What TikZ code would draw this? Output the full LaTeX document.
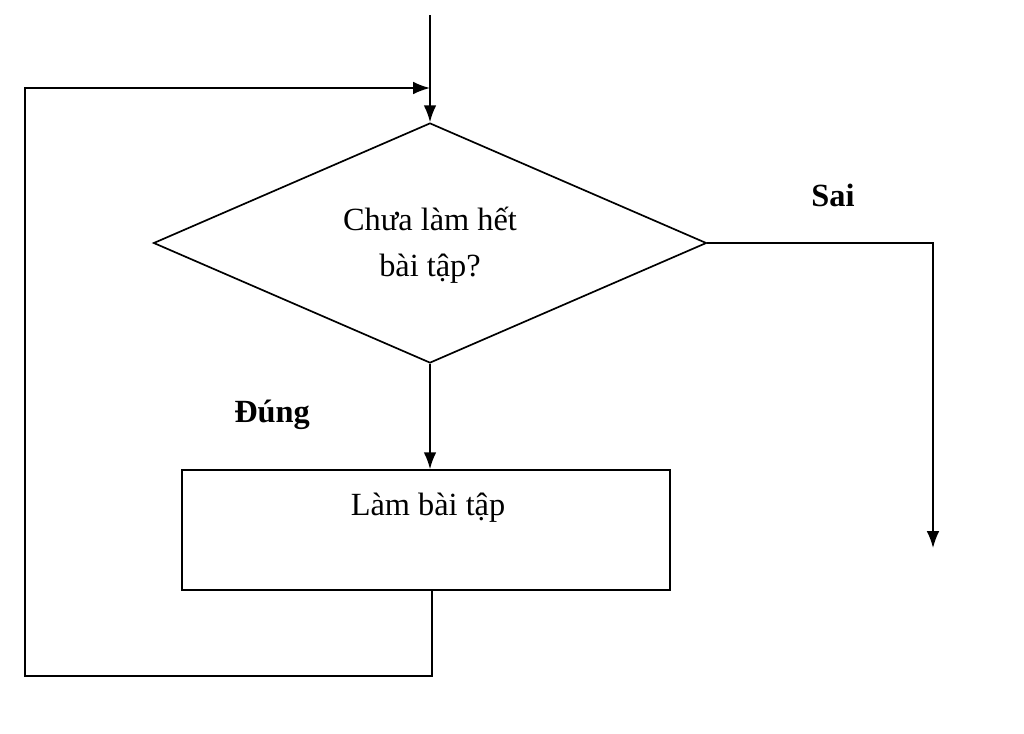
\documentclass[tikz,border=0pt]{standalone}
\usepackage{fontspec}
\setmainfont{Liberation Serif}
\usetikzlibrary{shapes.geometric, arrows.meta}
\begin{document}
\begin{tikzpicture}[x=0.025cm, y=-0.025cm, line width=1.2pt, >={Latex[length=12pt,width=9pt]},
  txt/.style={font=\fontsize{23}{33}\selectfont, align=center},
  lbl/.style={font=\fontsize{23}{28}\selectfont\bfseries}]
  \useasboundingbox (0,0) rectangle (1024,733);
  % decision
  \node[diamond, draw, minimum width=553*0.025cm, minimum height=240*0.025cm, inner sep=0pt] (cond) at (430,243) {};
  \node[txt] (condtxt) at (430,245) {Chưa làm hết\\bài tập?};
  % action
  \node[draw, minimum width=488*0.025cm, minimum height=120*0.025cm] (work) at (426,530) {};
  \node[txt] (worktxt) at (428,508) {Làm bài tập};
  % arrows
  \coordinate (start) at (430,15);
  \coordinate (stop) at (933,548);
  \draw[->] (start) -- (cond.north);
  \draw[->] (cond.south) -- (work.north -| cond.south);
  \draw[->] (cond.east) -- (cond.east -| stop) -- (stop);
  \draw[->] (work.south -| 432,0) -- (432,676) -- (25,676) -- (25,88) -- (430,88);
  % labels
  \node[lbl] (sai) at (833,195) {Sai};
  \node[lbl] (dung) at (272,415) {Đúng};
\end{tikzpicture}
\end{document}
